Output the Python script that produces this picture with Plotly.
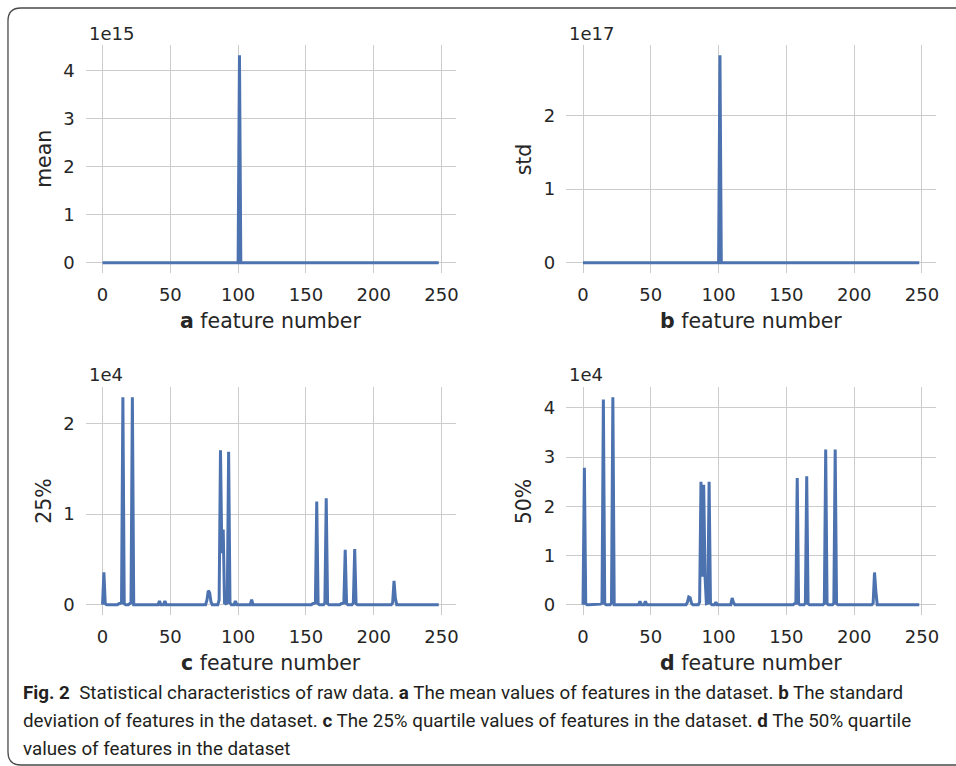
import plotly.graph_objects as go

W, H = 956, 766

# ---------------- data ----------------
N_FEATURES = 249
features = list(range(N_FEATURES))

# (a) mean, units of 1e15 (all other features ~0)
mean_idx = [101]
mean_val = [4.31]

# (b) std, units of 1e17
std_idx = [101]
std_val = [2.82]

# (c) 25% quartile, units of 1e4
q25_idx = [1, 2, 12, 13, 14, 15, 16, 20, 21, 22, 42, 46, 77, 78, 79, 80,
           86, 87, 88, 89, 90, 91, 92, 93, 94, 98, 110,
           155, 156, 157, 158, 159, 164, 165, 166,
           176, 177, 178, 179, 180, 185, 186, 187, 214, 215, 216]
q25_val = [0.356, 0.01, 0.01, 0.015, 0.02, 2.29, 0.01, 0.01, 0.02, 2.29, 0.04, 0.04, 0.05, 0.155, 0.13, 0.03,
           0.05, 1.706, 0.57, 0.83, 0.02, 0.01, 0.02, 1.688, 0.02, 0.04, 0.055,
           0.01, 0.015, 0.02, 1.138, 0.01, 0.02, 1.174, 0.01,
           0.01, 0.015, 0.02, 0.606, 0.01, 0.02, 0.613, 0.01, 0.02, 0.264, 0.07]

# (d) 50% quartile, units of 1e4
q50_idx = [1, 2, 13, 14, 15, 16, 21, 22, 42, 46, 77, 78, 79, 80,
           86, 87, 88, 89, 90, 91, 92, 93, 94, 98, 110, 111,
           156, 157, 158, 159, 164, 165, 166, 178, 179, 180, 185, 186, 187, 214, 215, 216]
q50_val = [2.786, 0.02, 0.01, 0.03, 4.17, 0.02, 0.03, 4.216, 0.067, 0.067, 0.05, 0.155, 0.14, 0.03,
           0.05, 2.50, 0.57, 2.44, 0.57, 0.02, 0.03, 2.50, 0.03, 0.05, 0.135, 0.04,
           0.02, 0.03, 2.577, 0.02, 0.03, 2.61, 0.02, 0.03, 3.157, 0.02, 0.03, 3.157, 0.02, 0.03, 0.654, 0.27]

x_ticks = [0, 50, 100, 150, 200, 250]
panels = [
    # idx, val, ytitle, letter, offset text, yticks
    (mean_idx, mean_val, "mean", "a", "1e15", [0, 1, 2, 3, 4]),
    (std_idx, std_val, "std", "b", "1e17", [0, 1, 2]),
    (q25_idx, q25_val, "25%", "c", "1e4", [0, 1, 2]),
    (q50_idx, q50_val, "50%", "d", "1e4", [0, 1, 2, 3, 4]),
]

# ---------------- layout geometry (pixels) ----------------
col_x = [(86, 457), (568, 939)]
row_y = [(45, 273), (387, 615)]

def px_x(p):
    return p / W

def px_y(p):
    return 1 - p / H

FONT = "DejaVu Sans"
TXT = "#262626"
BLUE = "#4c72b0"
GRID = "#cccccc"

fig = go.Figure()
annotations = []
layout_axes = {}

for k, (idx, val, ytitle, letter, offs, yticks) in enumerate(panels):
    r, c = divmod(k, 2)
    series = [0.0] * N_FEATURES
    for i, v in zip(idx, val):
        series[i] = v
    n = k + 1
    xa = "x" if n == 1 else f"x{n}"
    ya = "y" if n == 1 else f"y{n}"
    fig.add_trace(go.Scatter(x=features, y=series, mode="lines",
                             line=dict(color=BLUE, width=3),
                             xaxis=xa, yaxis=ya, showlegend=False,
                             hoverinfo="skip"))
    xmin, xmax = min(features), max(features)
    xm = 0.05 * (xmax - xmin)
    ymin, ymax = min(series), max(series)
    ym = 0.05 * (ymax - ymin)
    x0, x1 = col_x[c]
    y0, y1 = row_y[r]
    layout_axes["xaxis" if n == 1 else f"xaxis{n}"] = dict(
        domain=[px_x(x0), px_x(x1)], range=[xmin - xm, xmax + xm],
        anchor=ya, tickvals=x_ticks, showgrid=True, gridcolor=GRID, gridwidth=1.4,
        zeroline=False, showline=False, ticks="", ticklabelstandoff=9,
        tickfont=dict(family=FONT, size=18, color=TXT), fixedrange=True)
    layout_axes["yaxis" if n == 1 else f"yaxis{n}"] = dict(
        domain=[px_y(y1), px_y(y0)], range=[ymin - ym, ymax + ym],
        anchor=xa, tickvals=yticks, showgrid=True, gridcolor=GRID, gridwidth=1.4,
        zeroline=False, showline=False, ticks="", ticklabelstandoff=10,
        tickfont=dict(family=FONT, size=18, color=TXT), fixedrange=True)
    # offset text
    annotations.append(dict(text=offs, x=px_x(x0 + 1), y=px_y(y0 - 12), xref="paper", yref="paper",
                            xanchor="left", yanchor="middle", showarrow=False,
                            font=dict(family=FONT, size=18, color=TXT)))
    # y title
    annotations.append(dict(text=ytitle, x=px_x(x0 - 42), y=px_y((y0 + y1) / 2), xref="paper", yref="paper",
                            xanchor="center", yanchor="middle", textangle=-90, showarrow=False,
                            font=dict(family=FONT, size=20.5, color=TXT)))
    # x title
    annotations.append(dict(text=f"<b>{letter}</b> feature number", x=px_x((x0 + x1) / 2),
                            y=px_y(y1 + 48), xref="paper", yref="paper",
                            xanchor="center", yanchor="middle", showarrow=False,
                            font=dict(family=FONT, size=20.5, color=TXT)))

# caption
CAP_FONT = "Roboto, Open Sans, sans-serif"
caption_lines = [
    "<b>Fig. 2</b>  Statistical characteristics of raw data. <b>a</b> The mean values of features in the dataset. <b>b</b> The standard",
    "deviation of features in the dataset. <b>c</b> The 25% quartile values of features in the dataset. <b>d</b> The 50% quartile",
    "values of features in the dataset",
]
for i, line in enumerate(caption_lines):
    annotations.append(dict(text=line, x=px_x(21), y=px_y(692.5 + 28 * i), xref="paper", yref="paper",
                            xanchor="left", yanchor="middle", showarrow=False,
                            font=dict(family=CAP_FONT, size=18.8, color="#231f20")))

# rounded border
def P(x, y):
    return f"{px_x(x):.5f},{px_y(y):.5f}"

border = (f"M {P(975, 8)} L {P(21, 8)} Q {P(8, 8)} {P(8, 21)} "
          f"L {P(8, 752)} Q {P(8, 765)} {P(21, 765)} L {P(975, 765)}")

fig.update_layout(
    width=W, height=H, margin=dict(l=0, r=0, t=0, b=0),
    paper_bgcolor="white", plot_bgcolor="white",
    annotations=annotations,
    shapes=[dict(type="path", path=border, xref="paper", yref="paper",
                 line=dict(color="#4a4a4a", width=1.3))],
    **layout_axes,
)

fig.write_html("out.html", config={"displayModeBar": False},
               post_script="document.body.style.margin='0px';document.body.style.overflow='hidden';")
